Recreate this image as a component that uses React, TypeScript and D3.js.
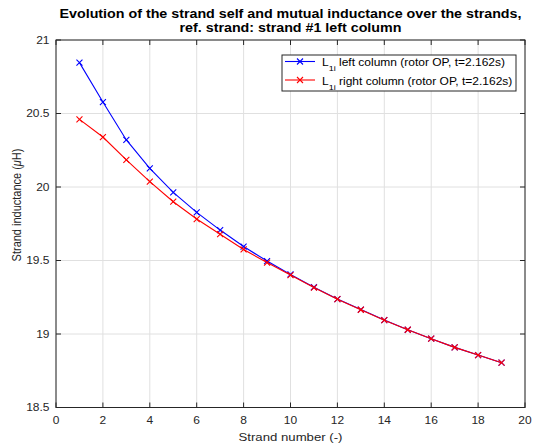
import React from "react";
import * as d3 from "d3";

// Strand index and inductance values (µH)
const strands = [1, 2, 3, 4, 5, 6, 7, 8, 9, 10, 11, 12, 13, 14, 15, 16, 17, 18, 19];
const leftColumn = [20.846, 20.578, 20.32, 20.127, 19.963, 19.827, 19.707, 19.595, 19.496, 19.405, 19.318, 19.238, 19.166, 19.095, 19.029, 18.968, 18.909, 18.857, 18.805];
const rightColumn = [20.46, 20.34, 20.184, 20.036, 19.9, 19.782, 19.679, 19.575, 19.486, 19.401, 19.316, 19.237, 19.165, 19.094, 19.029, 18.968, 18.909, 18.857, 18.805];
const xTicks = [0, 2, 4, 6, 8, 10, 12, 14, 16, 18, 20];
const yTicks = [18.5, 19, 19.5, 20, 20.5, 21];
const titleLines = [
  "Evolution of the strand self and mutual inductance over the strands,",
  "ref. strand: strand #1 left column",
];
const seriesNames = ["left column (rotor OP, t=2.162s)", "right column (rotor OP, t=2.162s)"];
const seriesColors = ["#0000ff", "#ff0000"];

const W = 533;
const H = 448;
const M = { left: 56, right: 8, top: 40, bottom: 40.5 };
const FONT = "'Liberation Sans', Arial, Helvetica, sans-serif";
const AX = "#262626";
const SX = 1.2; // horizontal widening of the lettering

// Text positioned at (x, y) and widened horizontally around that anchor
function WideText(props: {
  x: number;
  y: number;
  anchor?: string;
  size: number;
  weight?: string;
  fill?: string;
  rotate?: number;
  children: React.ReactNode;
}) {
  const { x, y, anchor = "start", size, weight = "normal", fill = AX, rotate = 0, children } = props;
  return (
    <text
      transform={`translate(${x},${y}) scale(${SX},1)${rotate ? ` rotate(${rotate})` : ""}`}
      textAnchor={anchor}
      fontSize={size}
      fontWeight={weight}
      fill={fill}
    >
      {children}
    </text>
  );
}

export default function App() {
  const x = d3.scaleLinear().domain([0, 20]).range([M.left, W - M.right]);
  const y = d3.scaleLinear().domain([18.5, 21]).range([H - M.bottom, M.top]);
  const line = d3
    .line<number>()
    .x((_, i) => x(strands[i]))
    .y((d) => y(d));
  const x0 = x(0), x1 = x(20), y0 = y(18.5), y1 = y(21);
  const series = [leftColumn, rightColumn];
  const ms = 3;
  const cross = (cx: number, cy: number) =>
    `M${cx - ms},${cy - ms}L${cx + ms},${cy + ms}M${cx - ms},${cy + ms}L${cx + ms},${cy - ms}`;

  const lg = { x: 282, y: 55, w: 234, h: 36 };

  return (
    <svg width={W} height={H} style={{ position: "absolute", left: 0, top: 0, background: "#fff" }} fontFamily={FONT}>
      <rect x={0} y={0} width={W} height={H} fill="#fff" />
      {/* grid */}
      {xTicks.map((t) => (
        <line key={"gx" + t} x1={x(t)} x2={x(t)} y1={y0} y2={y1} stroke="#e0e0e0" strokeWidth={1} />
      ))}
      {yTicks.map((t) => (
        <line key={"gy" + t} x1={x0} x2={x1} y1={y(t)} y2={y(t)} stroke="#e0e0e0" strokeWidth={1} />
      ))}
      {/* series */}
      {series.map((s, k) => (
        <g key={"s" + k}>
          <path d={line(s) || ""} fill="none" stroke={seriesColors[k]} strokeWidth={1.1} />
          {s.map((v, i) => (
            <path key={i} d={cross(x(strands[i]), y(v))} stroke={seriesColors[k]} strokeWidth={1.1} />
          ))}
        </g>
      ))}
      {/* box and ticks */}
      <rect x={x0} y={y1} width={x1 - x0} height={y0 - y1} fill="none" stroke={AX} strokeWidth={1} />
      {xTicks.map((t) => (
        <g key={"tx" + t}>
          <line x1={x(t)} x2={x(t)} y1={y0} y2={y0 - 5} stroke={AX} />
          <line x1={x(t)} x2={x(t)} y1={y1} y2={y1 + 5} stroke={AX} />
          <WideText x={x(t)} y={y0 + 16} anchor="middle" size={10}>
            {t}
          </WideText>
        </g>
      ))}
      {yTicks.map((t) => (
        <g key={"ty" + t}>
          <line x1={x0} x2={x0 + 5} y1={y(t)} y2={y(t)} stroke={AX} />
          <line x1={x1} x2={x1 - 5} y1={y(t)} y2={y(t)} stroke={AX} />
          <WideText x={x0 - 6.5} y={y(t) + 3.7} anchor="end" size={10}>
            {t}
          </WideText>
        </g>
      ))}
      {/* axis labels */}
      <WideText x={(x0 + x1) / 2} y={441} anchor="middle" size={11}>
        Strand number (-)
      </WideText>
      <WideText x={21} y={205} anchor="middle" size={11} rotate={-90}>
        Strand inductance (<tspan fontStyle="italic">μ</tspan>H)
      </WideText>
      {/* title */}
      {titleLines.map((t, i) => (
        <WideText key={"t" + i} x={(x0 + x1) / 2} y={17.5 + i * 14.5} anchor="middle" size={11.9} weight="bold" fill="#000">
          {t}
        </WideText>
      ))}
      {/* legend */}
      <rect x={lg.x} y={lg.y} width={lg.w} height={lg.h} fill="#fff" stroke={AX} strokeWidth={1} />
      {seriesNames.map((n, k) => {
        const ly = lg.y + 6.5 + k * 18.5;
        const mx = lg.x + 18;
        return (
          <g key={"l" + k}>
            <line x1={lg.x + 3} x2={lg.x + 33} y1={ly} y2={ly} stroke={seriesColors[k]} strokeWidth={1.1} />
            <path d={cross(mx, ly)} stroke={seriesColors[k]} strokeWidth={1.1} />
            <WideText x={lg.x + 40} y={ly + 4.5} size={10} fill="#000">
              L
              <tspan fontSize={7.5} dy={5}>1i</tspan>
              <tspan dy={-5}> {n}</tspan>
            </WideText>
          </g>
        );
      })}
    </svg>
  );
}
